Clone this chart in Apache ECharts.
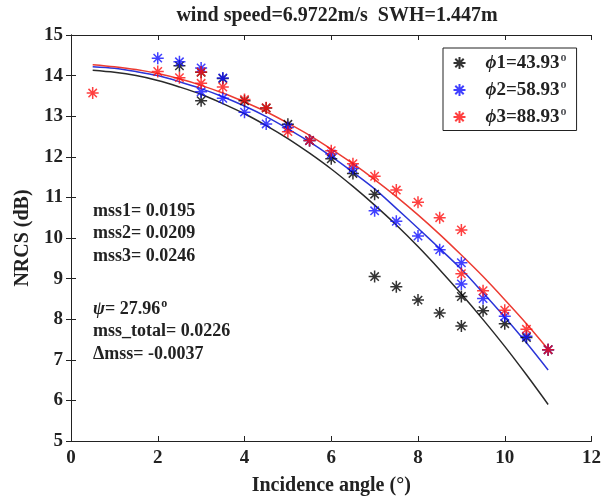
<!DOCTYPE html>
<html>
<head>
<meta charset="utf-8">
<script src="https://cdn.jsdelivr.net/npm/echarts@6/dist/echarts.min.js"></script>
<style>
  html, body { margin: 0; padding: 0; background: #fff; }
  #chart { width: 604px; height: 501px; }
</style>
</head>
<body>
<div id="chart"></div>
<script>
// measured points (incidence angle, NRCS dB)
var phi1Points = [[2.5,14.24],[3,14.08],[3,13.38],[3.5,13.93],[4,13.38],[4.5,13.2],[5,12.8],[5.5,12.4],[6,11.95],[6.5,11.59],[7,11.08],[7,9.05],[7.5,8.8],[8,8.47],[8.5,8.15],[9,8.56],[9,7.83],[9.5,8.21],[10,7.89],[10.5,7.55],[11,7.25]];
var phi2Points = [[2,14.43],[2.5,14.34],[3,14.19],[3,13.6],[3.5,13.94],[3.5,13.44],[4,13.1],[4.5,12.81],[5,12.72],[5.5,12.4],[6,12.07],[6.5,11.71],[7,10.67],[7.5,10.41],[8,10.05],[8.5,9.71],[9,9.39],[9,8.87],[9.5,8.51],[10,8.07],[10.5,7.58],[11,7.25]];
var phi3Points = [[0.5,13.57],[2,14.1],[2.5,13.95],[3,14.09],[3,13.81],[3.5,13.72],[4,13.41],[4.5,13.21],[5,12.62],[5.5,12.4],[6,12.15],[6.5,11.83],[7,11.52],[7.5,11.18],[8,10.88],[8.5,10.5],[9,10.2],[9,9.12],[9.5,8.7],[10,8.22],[10.5,7.75],[11,7.25]];

// fitted curves
var curveAngles = [0.5,1,1.5,2,2.5,3,3.5,4,4.5,5,5.5,6,6.5,7,7.5,8,8.5,9,9.5,10,10.5,11];
var fit1 = [14.13,14.08,14.0,13.88,13.72,13.54,13.31,13.06,12.77,12.45,12.09,11.7,11.27,10.81,10.32,9.79,9.22,8.62,7.99,7.33,6.63,5.9];
var fit2 = [14.22,14.18,14.1,14.0,13.85,13.68,13.48,13.25,12.99,12.69,12.37,12.01,11.62,11.21,10.73,10.24,9.74,9.23,8.65,8.05,7.42,6.75];
var fit3 = [14.27,14.22,14.15,14.05,13.92,13.76,13.57,13.35,13.11,12.83,12.53,12.19,11.83,11.44,11.02,10.57,10.09,9.58,9.05,8.48,7.89,7.26];

var legendNames = ['ϕ1=43.93', 'ϕ2=58.93', 'ϕ3=88.93'];

var serif = "'Liberation Serif', 'DejaVu Serif', serif";
var star = 'path://M0,-6L0,6M-6,0L6,0M-4.2,-4.2L4.2,4.2M-4.2,4.2L4.2,-4.2';

function pairs(xs, ys) {
  var out = [];
  for (var i = 0; i < xs.length; i++) out.push([xs[i], ys[i]]);
  return out;
}

function scatter(name, data, color) {
  return {
    name: name,
    type: 'scatter',
    data: data,
    symbol: star,
    symbolSize: 12,
    z: 3,
    itemStyle: { color: 'none', borderColor: color, borderWidth: 1.5 }
  };
}

function curve(name, data, color) {
  return {
    name: name,
    type: 'line',
    data: data,
    showSymbol: false,
    smooth: 0.3,
    z: 2,
    lineStyle: { color: color, width: 1.5 }
  };
}

var chart = echarts.init(document.getElementById('chart'));

var sup = { fontSize: 12, fontWeight: 'bold', fontFamily: serif, verticalAlign: 'top', lineHeight: 10, padding: [0, 0, 0, 1] };
var txt = { fontSize: 19, fontWeight: 'bold', fontFamily: serif, color: '#222', lineHeight: 22 };

chart.setOption({
  animation: false,
  title: {
    text: 'wind speed=6.9722m/s  SWH=1.447m',
    left: 332, top: 1, textAlign: 'center',
    textStyle: { fontFamily: serif, fontWeight: 'bold', fontSize: 20, color: '#222' }
  },
  grid: { left: 71, right: 10, top: 35, bottom: 56 },
  legend: {
    data: legendNames,
    orient: 'vertical',
    left: 443, top: 48,
    padding: [4, 10, 4, 8],
    itemGap: 6.5,
    itemWidth: 42, itemHeight: 12,
    borderColor: '#222', borderWidth: 1,
    backgroundColor: '#fff',
    formatter: function (n) { return '{i|ϕ}{t|' + n.slice(1) + '}{s|o}'; },
    textStyle: {
      rich: {
        i: { fontSize: 19, fontStyle: 'italic', fontWeight: 'bold', fontFamily: serif, color: '#222', lineHeight: 22 },
        t: txt,
        s: sup
      }
    }
  },
  xAxis: [{
    type: 'value', min: 0, max: 12, interval: 2,
    name: 'Incidence angle (°)', nameLocation: 'middle', nameGap: 35,
    nameTextStyle: { fontFamily: serif, fontWeight: 'bold', fontSize: 20, color: '#222' },
    axisLine: { lineStyle: { color: '#222', width: 1 } },
    axisTick: { inside: true, length: 5, lineStyle: { color: '#222' } },
    axisLabel: { fontFamily: serif, fontWeight: 'bold', fontSize: 19, color: '#222', margin: 8 },
    splitLine: { show: false }
  }, {
    type: 'value', min: 0, max: 12, interval: 2, position: 'top',
    axisLine: { lineStyle: { color: '#222', width: 1 } },
    axisTick: { inside: true, length: 5, lineStyle: { color: '#222' } },
    axisLabel: { show: false },
    splitLine: { show: false }
  }],
  yAxis: [{
    type: 'value', min: 5, max: 15, interval: 1,
    name: 'NRCS (dB)', nameLocation: 'middle', nameGap: 35,
    nameTextStyle: { fontFamily: serif, fontWeight: 'bold', fontSize: 20, color: '#222' },
    axisLine: { show: true, lineStyle: { color: '#222', width: 1 } },
    axisTick: { show: true, inside: true, length: 5, lineStyle: { color: '#222' } },
    axisLabel: { fontFamily: serif, fontWeight: 'bold', fontSize: 19, color: '#222', margin: 8 },
    splitLine: { show: false }
  }, {
    type: 'value', min: 5, max: 15, interval: 1, position: 'right',
    axisLine: { show: true, lineStyle: { color: '#222', width: 1 } },
    axisTick: { show: true, inside: true, length: 5, lineStyle: { color: '#222' } },
    axisLabel: { show: false },
    splitLine: { show: false }
  }],
  graphic: [{
    type: 'text', left: 93, top: 200,
    style: {
      text: 'mss1= 0.0195\nmss2= 0.0209\nmss3= 0.0246',
      font: 'bold 18px ' + serif, fill: '#222', lineHeight: 22.5
    }
  }, {
    type: 'text', left: 93, top: 298,
    style: {
      text: '{i|ψ}{t|= 27.96}{s|o}\n{t|mss_total= 0.0226}\n{t|Δmss= -0.0037}',
      rich: {
        i: { fontSize: 18, fontStyle: 'italic', fontWeight: 'bold', fontFamily: serif, fill: '#222', lineHeight: 22.5 },
        t: { fontSize: 18, fontWeight: 'bold', fontFamily: serif, fill: '#222', lineHeight: 22.5 },
        s: { fontSize: 12, fontWeight: 'bold', fontFamily: serif, fill: '#222', verticalAlign: 'top', lineHeight: 10, padding: [0, 0, 0, 1] }
      }
    }
  }],
  series: [
    curve('fit1', pairs(curveAngles, fit1), '#2a2a2a'),
    curve('fit2', pairs(curveAngles, fit2), '#2b35d8'),
    curve('fit3', pairs(curveAngles, fit3), '#ec3b32'),
    scatter(legendNames[0], phi1Points, '#000000'),
    scatter(legendNames[1], phi2Points, '#1010ff'),
    scatter(legendNames[2], phi3Points, '#ff1010')
  ]
});
</script>
</body>
</html>
